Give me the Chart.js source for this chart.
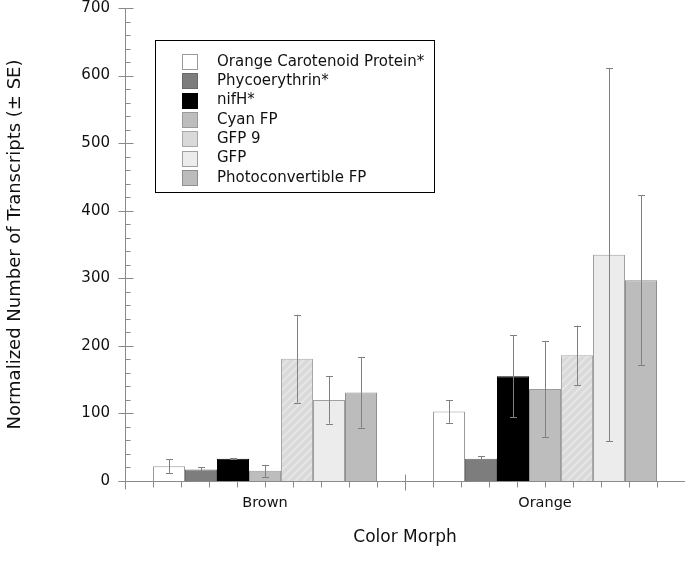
<!DOCTYPE html>
<html>
<head>
<meta charset="utf-8">
<script src="https://cdn.jsdelivr.net/npm/chart.js@4"></script>
<style>
  body { margin: 0; background: #fff; }
  canvas { display: block; }
</style>
</head>
<body>
<canvas id="chart" width="685" height="562"></canvas>
<script>
// data
const categories = ['Brown', 'Orange'];
const seriesNames = ['Orange Carotenoid Protein*', 'Phycoerythrin*', 'nifH*', 'Cyan FP', 'GFP 9', 'GFP', 'Photoconvertible FP'];
const ocp = [22, 103];
const ocpSE = [10, 17];
const phyco = [17, 33];
const phycoSE = [3, 4];
const nifh = [33, 155];
const nifhSE = [1, 61];
const cyanFP = [15, 136];
const cyanSE = [9, 71];
const gfp9 = [181, 186];
const gfp9SE = [65, 44];
const gfp = [120, 335];
const gfpSE = [35, 276];
const photoFP = [131, 297];
const photoSE = [52, 126];
const yTicks = [0, 100, 200, 300, 400, 500, 600, 700];

const FONT = '"DejaVu Sans", "Liberation Sans", sans-serif';

// light diagonal hatch for GFP 9
function hatch() {
  const c = document.createElement('canvas');
  c.width = 8; c.height = 8;
  const g = c.getContext('2d');
  g.fillStyle = '#d9d9d9';
  g.fillRect(0, 0, 8, 8);
  g.strokeStyle = '#e6e6e6';
  g.lineWidth = 2;
  g.beginPath();
  g.moveTo(-2, 2); g.lineTo(2, -2);
  g.moveTo(0, 8); g.lineTo(8, 0);
  g.moveTo(6, 10); g.lineTo(10, 6);
  g.stroke();
  return document.getElementById('chart').getContext('2d').createPattern(c, 'repeat');
}

const fills = ['#ffffff', '#7d7d7d', '#000000', '#bdbdbd', hatch(), '#ececec', '#bcbcbc'];
const swatch = ['#ffffff', '#7d7d7d', '#000000', '#bdbdbd', '#d9d9d9', '#ececec', '#bcbcbc'];
const borders = ['#9a9a9a', '#6a6a6a', '#000000', '#9a9a9a', '#a8a8a8', '#a0a0a0', '#8f8f8f'];
const values = [ocp, phyco, nifh, cyanFP, gfp9, gfp, photoFP];
const errors = [ocpSE, phycoSE, nifhSE, cyanSE, gfp9SE, gfpSE, photoSE];

const datasets = seriesNames.map((name, i) => ({
  label: name,
  data: values[i],
  se: errors[i],
  backgroundColor: fills[i],
  borderColor: borders[i],
  borderWidth: 1,
  categoryPercentage: 0.8,
  barPercentage: 1.0
}));

// error bars
const errorBars = {
  id: 'errorBars',
  afterDatasetsDraw(chart) {
    const {ctx, scales: {y}} = chart;
    ctx.save();
    ctx.strokeStyle = '#808080';
    ctx.lineWidth = 1;
    chart.data.datasets.forEach((ds, i) => {
      const meta = chart.getDatasetMeta(i);
      meta.data.forEach((bar, j) => {
        const v = ds.data[j], e = ds.se[j];
        const x = Math.round(bar.x) + 0.5;
        const top = y.getPixelForValue(v + e);
        const bot = y.getPixelForValue(Math.max(0, v - e));
        ctx.beginPath();
        ctx.moveTo(x, top); ctx.lineTo(x, bot);
        ctx.moveTo(x - 3.5, Math.round(top) + 0.5); ctx.lineTo(x + 3.5, Math.round(top) + 0.5);
        ctx.moveTo(x - 3.5, Math.round(bot) + 0.5); ctx.lineTo(x + 3.5, Math.round(bot) + 0.5);
        ctx.stroke();
      });
    });
    ctx.restore();
  }
};

// axis lines with major / minor ticks
const axisLines = {
  id: 'axisLines',
  afterDraw(chart) {
    const {ctx, chartArea: a, scales: {x, y}} = chart;
    const ax = Math.round(a.left) + 0.5;
    const ay = Math.round(a.bottom) + 0.5;
    ctx.save();
    ctx.strokeStyle = '#8a8a8a';
    ctx.lineWidth = 1;
    ctx.beginPath();
    ctx.moveTo(ax, a.top); ctx.lineTo(ax, ay + 8);
    ctx.moveTo(ax - 7, ay); ctx.lineTo(a.right, ay);
    for (let v = 0; v <= 700; v += 20) {
      const py = Math.round(y.getPixelForValue(v)) + 0.5;
      if (v % 100 === 0) { ctx.moveTo(ax - 7, py); ctx.lineTo(ax + 8, py); }
      else { ctx.moveTo(ax, py); ctx.lineTo(ax + 5, py); }
    }
    const cat = (a.right - a.left) / categories.length;
    categories.forEach((c, i) => {
      const left = x.getPixelForValue(i) - cat / 2;
      for (let k = 0; k < 10; k++) {
        const px = Math.round(left + k * cat / 10) + 0.5;
        if (k === 0) { if (i > 0) { ctx.moveTo(px, ay - 7); ctx.lineTo(px, ay + 9); } }
        else { ctx.moveTo(px, ay); ctx.lineTo(px, ay + 6); }
      }
    });
    ctx.stroke();
    ctx.restore();
  }
};

// boxed legend
const boxLegend = {
  id: 'boxLegend',
  afterDraw(chart) {
    const {ctx} = chart;
    ctx.save();
    ctx.fillStyle = '#fff';
    ctx.fillRect(155.5, 40.5, 279, 152);
    ctx.strokeStyle = '#000';
    ctx.lineWidth = 1;
    ctx.strokeRect(155.5, 40.5, 279, 152);
    ctx.font = '15px ' + FONT;
    ctx.textBaseline = 'middle';
    chart.data.datasets.forEach((ds, i) => {
      const cy = 61 + i * 19.3;
      ctx.fillStyle = swatch[i];
      ctx.fillRect(182.5, Math.round(cy - 7) + 0.5, 15, 15);
      ctx.strokeStyle = borders[i];
      ctx.strokeRect(182.5, Math.round(cy - 7) + 0.5, 15, 15);
      ctx.fillStyle = '#111';
      ctx.fillText(ds.label, 217, cy + 1);
    });
    ctx.restore();
  }
};

new Chart(document.getElementById('chart'), {
  type: 'bar',
  data: { labels: categories, datasets: datasets },
  options: {
    responsive: false,
    animation: false,
    layout: { padding: { top: 8, right: 0, left: 0, bottom: 0 } },
    plugins: {
      legend: { display: false },
      tooltip: { enabled: false }
    },
    scales: {
      x: {
        grid: { display: false, drawTicks: false },
        border: { display: false },
        ticks: { color: '#111', font: { family: FONT, size: 14.5 }, padding: 14 },
        title: { display: true, text: 'Color Morph', color: '#111', font: { family: FONT, size: 17 }, padding: { top: 0, bottom: 14 } },
        afterFit(scale) { scale.height = 81; scale.paddingLeft = 0; scale.paddingRight = 0; }
      },
      y: {
        min: 0,
        max: 700,
        grid: { display: false, drawTicks: false },
        border: { display: false },
        afterBuildTicks(scale) { scale.ticks = yTicks.map(v => ({ value: v })); },
        ticks: { color: '#111', font: { family: FONT, size: 15 }, padding: 15 },
        title: { display: true, text: 'Normalized Number of Transcripts (± SE)', color: '#111', font: { family: FONT, size: 18 }, padding: { top: 5, bottom: 0 } },
        afterFit(scale) { scale.width = 125; scale.paddingTop = 0; scale.paddingBottom = 0; }
      }
    }
  },
  plugins: [errorBars, axisLines, boxLegend]
});
</script>
</body>
</html>
